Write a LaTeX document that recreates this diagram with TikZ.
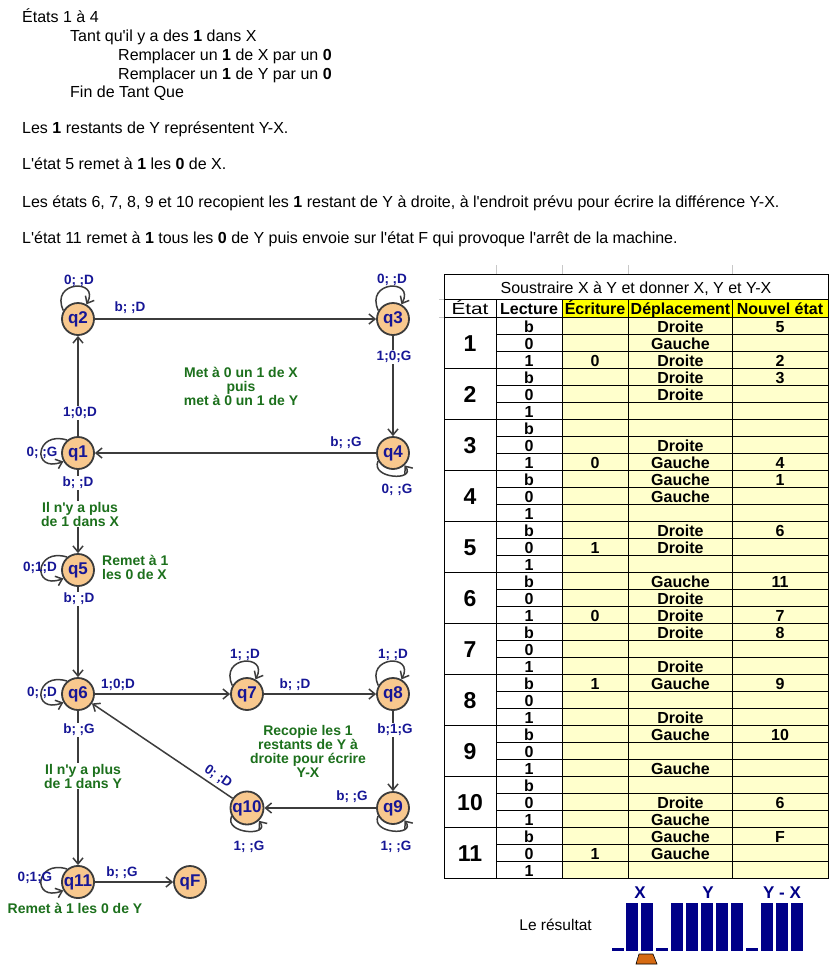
\documentclass[tikz,border=0pt]{standalone}
\usepackage{fontspec}
\setmainfont{Liberation Sans}[Ligatures=TeXOff]
\usetikzlibrary{arrows.meta}
\definecolor{nodefill}{RGB}{248,200,142}
\definecolor{lblue}{RGB}{22,22,150}
\definecolor{lgreen}{RGB}{28,112,28}
\definecolor{edgec}{RGB}{60,60,60}
\definecolor{cellyel}{RGB}{255,255,204}
\definecolor{headyel}{RGB}{255,255,0}
\definecolor{barblue}{RGB}{0,0,136}
\definecolor{heador}{RGB}{214,106,18}
\definecolor{gridg}{RGB}{200,200,200}
\begin{document}
\begin{tikzpicture}[x=1pt,y=-1pt,
  qnode/.style={circle,draw=edgec,line width=1.8pt,fill=nodefill,minimum size=32pt,inner sep=0pt,text=lblue,font=\fontsize{17}{17}\selectfont\bfseries},
  arr/.style={draw=edgec,line width=1.5pt,-{Straight Barb[length=6pt,width=10pt]}},
  elab/.style={text=lblue,font=\fontsize{13.5}{14}\selectfont\bfseries,inner sep=1pt},
  onl/.style={elab,fill=white,inner sep=1.5pt},
  glab/.style={text=lgreen,font=\fontsize{14}{14}\selectfont\bfseries,align=center,inner sep=1pt},
  ptext/.style={anchor=base west,inner sep=0pt,font=\fontsize{16}{18}\selectfont},
  thead/.style={anchor=base,font=\fontsize{16}{16}\selectfont\bfseries,inner sep=0pt},
  tcell/.style={anchor=base,font=\fontsize{16}{16}\selectfont\bfseries,inner sep=0pt},
  tnum/.style={anchor=base,font=\fontsize{23}{23}\selectfont\bfseries,inner sep=0pt},
  tline/.style={draw=black,line width=1pt},
  rlab/.style={text=barblue,font=\fontsize{17}{17}\selectfont\bfseries,inner sep=0pt},
]
\useasboundingbox (0,0) rectangle (830,970);
\fill[white] (0,0) rectangle (830,970);

% ---------- top text ----------
\node[ptext] (t1) at (22,22) {États 1 à 4};
\node[ptext] (t2) at (70,41) {Tant qu'il y a des \textbf{1} dans X};
\node[ptext] (t3) at (118,60) {Remplacer un \textbf{1} de X par un \textbf{0}};
\node[ptext] (t4) at (118,79) {Remplacer un \textbf{1} de Y par un \textbf{0}};
\node[ptext] (t5) at (70,97) {Fin de Tant Que};
\node[ptext] (t6) at (22,133) {Les \textbf{1} restants de Y représentent Y-X.};
\node[ptext] (t7) at (22,169) {L'état 5 remet à \textbf{1} les \textbf{0} de X.};
\node[ptext] (t8) at (22,207) {Les états 6, 7, 8, 9 et 10 recopient les \textbf{1} restant de Y à droite, à l'endroit prévu pour écrire la différence Y-X.};
\node[ptext] (t9) at (22,243) {L'état 11 remet à \textbf{1} tous les \textbf{0} de Y puis envoie sur l'état F qui provoque l'arrêt de la machine.};

% ---------- states ----------
\node[qnode] (q2) at (78,319) {q2};
\node[qnode] (q3) at (393,319) {q3};
\node[qnode] (q1) at (78,453) {q1};
\node[qnode] (q4) at (393,453) {q4};
\node[qnode] (q5) at (78,570) {q5};
\node[qnode] (q6) at (78,694) {q6};
\node[qnode] (q7) at (247,694) {q7};
\node[qnode] (q8) at (393,694) {q8};
\node[qnode] (q9) at (393,808) {q9};
\node[qnode] (q10) at (247,808) {q10};
\node[qnode] (q11) at (78,882) {q11};
\node[qnode] (qF) at (190,882) {qF};

% ---------- transitions ----------
\draw[arr] (q2) -- (q3);
\draw[arr] (q3) -- (q4);
\draw[arr] (q4) -- (q1);
\draw[arr] (q1) -- (q2);
\draw[arr] (q1) -- (q5);
\draw[arr] (q5) -- (q6);
\draw[arr] (q6) -- (q7);
\draw[arr] (q7) -- (q8);
\draw[arr] (q8) -- (q9);
\draw[arr] (q9) -- (q10);
\draw[arr] (q10) -- (q6);
\draw[arr] (q6) -- (q11);
\draw[arr] (q11) -- (qF);

% loops on top
\draw[arr] (q2.150) .. controls +(-14,-30) and +(14,-26) .. (q2.60);
\draw[arr] (q3.150) .. controls +(-14,-30) and +(14,-26) .. (q3.60);
\draw[arr] (q7.150) .. controls +(-14,-30) and +(14,-26) .. (q7.60);
\draw[arr] (q8.150) .. controls +(-14,-30) and +(14,-26) .. (q8.60);
% loops on the left
\draw[arr] (q1.130) .. controls +(-32,-10) and +(-32,12) .. (q1.210);
\draw[arr] (q5.130) .. controls +(-32,-10) and +(-32,12) .. (q5.210);
\draw[arr] (q6.130) .. controls +(-32,-10) and +(-32,12) .. (q6.210);
\draw[arr] (q11.130) .. controls +(-32,-10) and +(-32,12) .. (q11.210);
% loops below
\draw[arr] (q4.208) .. controls +(-8,18) and +(12,16) .. (q4.-47);
\draw[arr] (q9.208) .. controls +(-8,18) and +(12,16) .. (q9.-47);
\draw[arr] (q10.208) .. controls +(-8,18) and +(12,16) .. (q10.-47);

% ---------- transition labels ----------
\node[elab] (l1) at (79,281) {0; ;D};
\node[elab] (l2) at (392,280) {0; ;D};
\node[elab] (l3) at (130,308) {b; ;D};
\node[onl] (l4) at (394,357) {1;0;G};
\node[elab] (l5) at (346,443) {b; ;G};
\node[elab] (l6) at (397,490) {0; ;G};
\node[onl] (l7) at (80,413) {1;0;D};
\node[elab] (l8) at (42,453) {0; ;G};
\node[onl] (l9) at (78,483) {b; ;D};
\node[elab] (l10) at (40,568) {0;1;D};
\node[onl] (l11) at (79,599) {b; ;D};
\node[elab] (l12) at (42,693) {0; ;D};
\node[elab] (l13) at (118,685) {1;0;D};
\node[elab] (l14) at (245,655) {1; ;D};
\node[elab] (l15) at (295,685) {b; ;D};
\node[elab] (l16) at (393,655) {1; ;D};
\node[onl] (l17) at (79,730) {b; ;G};
\node[onl] (l18) at (395,730) {b;1;G};
\node[elab,rotate=-34] (l19) at (218,777) {0; ;D};
\node[elab] (l20) at (352,797) {b; ;G};
\node[elab] (l21) at (249,847) {1; ;G};
\node[elab] (l22) at (396,847) {1; ;G};
\node[elab] (l23) at (35,878) {0;1;G};
\node[elab] (l24) at (122,873) {b; ;G};

% ---------- green comments ----------
\node[glab] (g1) at (241,386) {Met à 0 un 1 de X\\puis\\met à 0 un 1 de Y};
\node[glab,fill=white] (g2) at (80,514) {Il n'y a plus\\de 1 dans X};
\node[glab,align=left,anchor=west] (g3) at (101,567) {Remet à 1\\les 0 de X};
\node[glab] (g4) at (308,751) {Recopie les 1\\restants de Y à\\droite pour écrire\\Y-X};
\node[glab,fill=white] (g5) at (83,776) {Il n'y a plus\\de 1 dans Y};
\node[glab] (g6) at (75,908) {Remet à 1 les 0 de Y};

% ---------- table ----------
\fill[headyel] (562,299.5) rectangle (828,317.5);
\fill[cellyel] (562,317.5) rectangle (828,878.5);
\foreach \x in {496,562,628.5,732.5} \draw[gridg,line width=0.8pt] (\x,265) -- (\x,274);
\foreach \y in {299.5,317.5} \draw[gridg,line width=0.8pt] (439,\y) -- (444,\y);
\draw[tline] (444,274) rectangle (828,878.5);
\draw[tline] (444,299.5) -- (828,299.5);
\draw[tline] (444,317.5) -- (828,317.5);
\foreach \x in {496,562,628.5,732.5} \draw[tline] (\x,299.5) -- (\x,878.5);
\foreach \g in {1,...,10} \draw[tline] (444,{317.5+51*\g}) -- (828,{317.5+51*\g});
\foreach \k in {0,...,10} {
  \draw[tline] (496,{334.5+51*\k}) -- (828,{334.5+51*\k});
  \draw[tline] (496,{351.5+51*\k}) -- (828,{351.5+51*\k});
}
\node[anchor=base,font=\fontsize{16}{16}\selectfont,inner sep=0pt] (title) at (636,293) {Soustraire X à Y et donner X, Y et Y-X};
\node[anchor=base,font=\fontsize{16}{16}\selectfont,inner sep=0pt,xscale=1.3] (h1) at (470,314.5) {État};
\node[thead] (h2) at (529,314.5) {Lecture};
\node[thead] (h3) at (595,314.5) {Écriture};
\node[thead] (h4) at (680.5,314.5) {Déplacement};
\node[thead] (h5) at (780,314.5) {Nouvel état};
\foreach \g in {1,...,11} \node[tnum] (n\g) at (470,{351+51*(\g-1)}) {\g};
\foreach \k in {0,...,10} {
  \node[tcell] (lb\k) at (529,{332+51*\k}) {b};
  \node[tcell] (lz\k) at (529,{349+51*\k}) {0};
  \node[tcell] (lo\k) at (529,{366+51*\k}) {1};
}
\foreach \i/\v in {2/0,8/0,13/1,17/0,21/1,31/1}
  \node[tcell] (e\i) at (595,{332+17*\i}) {\v};
\foreach \i/\v in {0/Droite,1/Gauche,2/Droite,3/Droite,4/Droite,7/Droite,8/Gauche,9/Gauche,10/Gauche,12/Droite,13/Droite,15/Gauche,16/Droite,17/Droite,18/Droite,20/Droite,21/Gauche,23/Droite,24/Gauche,26/Gauche,28/Droite,29/Gauche,30/Gauche,31/Gauche}
  \node[tcell] (d\i) at (680.5,{332+17*\i}) {\v};
\foreach \i/\v in {0/5,2/2,3/3,8/4,9/1,12/6,15/11,17/7,18/8,21/9,24/10,28/6,30/F}
  \node[tcell] (s\i) at (780,{332+17*\i}) {\v};

% ---------- result ----------
\node[anchor=base east,inner sep=0pt,font=\fontsize{15.5}{18}\selectfont] (res) at (592,930) {Le résultat};
\foreach \x in {612,656,746} \fill[barblue] (\x,948) rectangle +(12,3);
\foreach \x in {626,641,671,686,701,716,731,761,776,791} \fill[barblue] (\x,903) rectangle +(12,48);
\node[rlab] (rx) at (640,893) {X};
\node[rlab] (ry) at (708,893) {Y};
\node[rlab] (ryx) at (782,893) {Y - X};
\draw[black,line width=0.6pt,fill=heador] (639,954) -- (653,954) -- (657,964) -- (636,964) -- cycle;
\end{tikzpicture}
\end{document}
